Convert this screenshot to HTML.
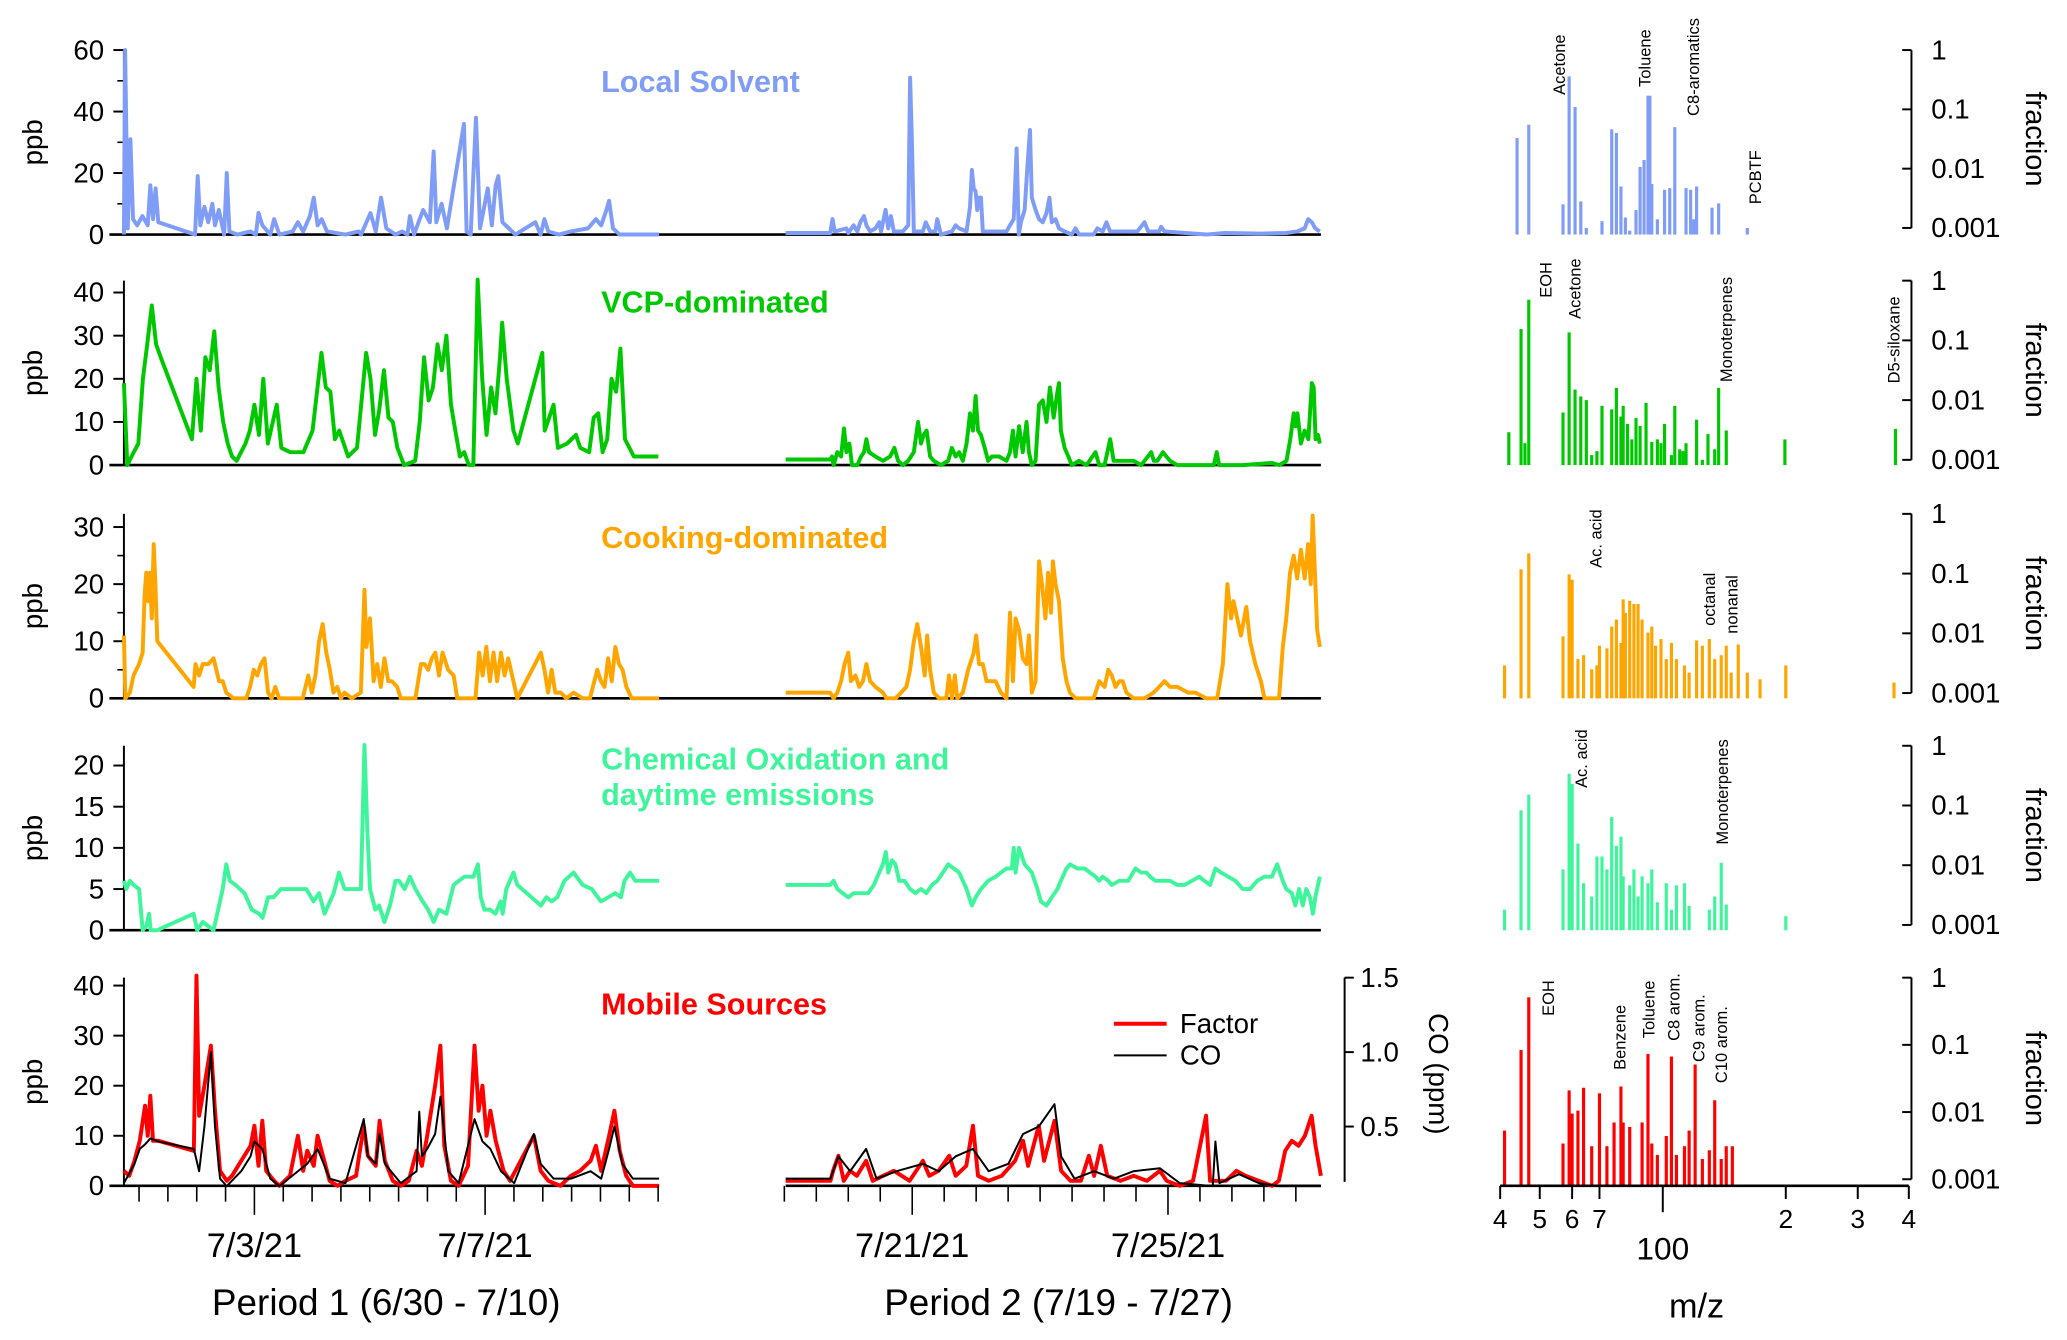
<!DOCTYPE html>
<html>
<head>
<meta charset="utf-8">
<style>
html,body{margin:0;padding:0;background:#fff;}
svg{display:block;font-family:"Liberation Sans",Arial,sans-serif;}
</style>
</head>
<body>
<svg id="chart" xmlns="http://www.w3.org/2000/svg" width="2067" height="1340" viewBox="0 0 1568 1017" preserveAspectRatio="none"></svg>
<script>
// ===== Time series data (hours since period start) =====
const ls1Hours=[0,0.5,1.6,2.7,3.8,5.5,7.7,9.9,11,12.1,13.2,14.3,29.6,30.7,31.8,33.5,35.1,36.8,37.9,39.5,41.7,42.8,43.9,47.2,52.7,54.9,56,57.6,60.9,62.5,64.7,70.2,72.4,74.6,77.4,79,80.6,82.3,84.5,92.2,97.7,98.7,102.6,104.8,107,109.2,113,115.8,118,119,120.7,124.5,127.3,128.9,130,132.2,134.4,141.5,142.6,144.3,146.5,148.2,151.4,153.1,154.7,155.8,157.5,162.9,171.2,173.4,175,176.6,181,186,193.1,196.4,198.6,200.8,201.9,203.5,206.3,222.7];
const ls1Vals=[0,60,2,31,5,3,6,3,16,5,15,4,0,19,3,9,4,10,3,8,0,20,1,0,1,0,7,3,0,5,0,1,4,1,6,12,3,5,1,0,1,0,7,1,12,2,0,1,0,6,0,8,4,27,4,10,2,36,1,0,38,2,15,3,16,19,4,0,4,0,5,1,0,1,2,5,3,8,11,2,0,0];
const ls2Hours=[0,16.7,17.6,18.4,22.8,23.5,25.5,26.9,28,29.4,30.3,31.7,33.7,35.1,35.8,37.5,38.5,39.5,40.6,44,46,46.7,47.4,48.1,51.5,52.6,54.2,56.2,56.9,58.3,62.4,63.8,65.1,67.9,69.2,69.9,70.6,71.3,71.9,72.6,73.3,74,78.8,82.9,84.2,85.6,86.7,87.5,88.3,89.7,90.8,91.7,92.4,93.8,95.1,96.5,97.9,99,99.9,101.3,102.6,104.7,107.4,108.8,110.1,115.6,117,119,120.4,121.8,125.2,132,134.7,136.1,140.2,140.9,142.2,157.9,164.7,178.4,187.9,192,194.8,196.1,197.5,198.8,200.5];
const ls2Vals=[0.5,0.5,5,1,2,0.5,3,1,4,6,3,1,2,4,1,8,2,6,1,1,3,51,30,1,1,4,1,1,5,0,1,3,2,1,9,21,15,14,8,12,12,1,1,1,3,5,28,0,4,8,23,34,12,8,5,4,7,12,4,5,2,1,0,2,0,0,2,1,4,1,1,1,4,1,1,2.5,1,0,0.5,0.3,0.5,1,2,5,4,2,1];

const vcp1Hours=[0,1.4,4.1,6,7.9,9.7,11.6,13.4,15.3,28.3,30.2,32,33.9,35.7,37.6,39.4,41.3,43.2,45,46.9,50.6,52.4,54.3,56.2,58,59.9,63.6,65.5,69.2,74.7,78.5,82.2,84,85.9,87.8,89.6,93.3,97,100.8,102.6,104.5,106.3,108.2,110.1,111.9,113.8,116.6,121.2,123.1,124.9,126.8,128.6,130.5,132.3,134.2,136.1,137.9,139.8,141.6,143.5,145.4,147.2,149.1,150.9,152.8,154.6,156.5,157.4,159.3,162.1,163.9,174.1,175.1,178.8,180.6,184.4,188.1,189.9,193.6,195.5,197.4,199.2,201.1,202.9,204.8,206.6,208.5,212.2,222.4];
const vcp1Vals=[19,0,3,5,20,28,37,28,25,6,20,8,25,22,31,18,10,5,2,1,5,8,14,7,20,5,14,4,3,3,8,26,18,17,6,8,2,4,26,20,7,13,22,11,10,4,0,1,10,25,15,18,28,22,30,14,8,2,3,0,0,43,20,7,18,12,25,33,20,8,5,26,8,14,4,5,7,4,3,11,12,3,6,20,17,27,6,2,2];
const vcp2Hours=[0,16.7,17.4,18,19.4,20.8,21.9,22.8,23.9,24.9,26.9,28.3,29.4,30.3,31.3,33.7,36.5,39.2,40.8,42.2,44,46,48.1,49.7,50.8,51.8,52.9,54.2,55.6,58.3,61,62.4,63.8,65.1,66.5,67.9,69.2,70.3,71.3,72.2,73.3,74.7,76,77.4,80.1,82.9,84.2,85.3,86.3,87.6,89,90.4,91.3,92.4,93.8,95.1,96.5,97.9,99.2,100.6,102,102.6,103.3,104.7,106.1,107.4,110.1,112.9,116.3,117.7,119.7,121.8,123.1,125.2,127.9,130.6,133.4,134.7,137.2,138.2,139.5,141.6,142.9,144.3,147,155.2,160.7,161.8,162.7,171.6,182.5,185.3,188,189.4,190.7,191.4,192.1,193.4,194.8,196.2,197.5,198.2,198.9,199.8,200.5];
const vcp2Vals=[1.3,1.3,2,0,3,2,8.5,3,5,0,0,2,3,6,3,2,1,2,4,1,0,1,3,10,5,7,8,2,1,0,1,4,2,3,1,5,12,8,16,8,7,4,1,2,2,1,3,8,2,9,3,10,3,0,1,14,15,10,18,11,17,19,8,4,2,0,1,0,3,0,0,6,1,1,1,1,0,1,3,1,1,3,2,1,0,0,0,3,0,0,0.5,0,1,6,12,9,12,5,8,6,19,18,6,7,5];

const cook1Hours=[0,0.6,2.5,4,6.3,7.8,8.6,9.3,10.1,10.8,11.6,12.4,13.1,13.9,29,29.8,31.3,32.8,35.1,37.3,39.6,41.1,42.6,45.6,50.9,52.5,54,55.5,57,58.5,60,61.5,63,64.6,74.4,76.7,78.2,79.7,81.2,82.7,84.2,85.7,87.2,88.8,90.3,91.8,94.8,98.6,100.1,100.9,102.4,103.9,105.4,106.9,108.4,110,111.5,113.7,115.2,121.3,123.6,125.1,126.6,128.1,129.6,131.1,132.6,134.9,137.2,138.7,146.3,147.8,149.3,150.8,152.3,153.8,155.3,156.9,158.4,159.9,163.7,173.5,175,176.5,178,179.5,181.8,184.1,187.1,190.9,193.9,197,198.5,200,201.5,203,204.5,206,207.5,209.1,211.3,222.7];
const cook1Vals=[11,0,1,4,6,8,18,22,17,22,14,27,20,10,2,6,4,6,6,7,3,3,1,0,0,2,5,4,6,7,1,0,2,0,0,4,1,4,10,13,8,5,1,2,0,1,0,1,19,9,14,3,6,2,7,3,3,2,0,0,6,6,5,7,8,4,8,5,4,0,0,8,4,9,3,8,3,8,4,7,0,8,5,1,5,1,1,0,1,0,0,5,3,2,7,3,9,6,5,2,0,0];
const cook2Hours=[0,16.7,18,19.4,20.8,22.1,23.5,24.5,26.2,27.6,29,30.3,31.7,33.7,36.5,37.8,41.2,43.3,45.3,46.7,48.1,49.4,50.8,52.2,53.1,54.2,55.6,57.6,60.3,61.3,62.4,63.5,64.4,66.5,68.5,70.6,71.5,72.6,74,75.4,77.4,78.8,80.8,82.9,84.2,85.3,86.3,87.6,89,90.4,91.3,92.4,93.8,95.1,96.2,97.5,98.5,99.6,100.3,101.3,102.6,104,105.4,106.7,108.8,115.6,117.7,119.7,121.1,122.4,123.8,125.2,126.5,127.9,130.6,134.7,138.1,140.2,142.2,144.3,147,151.1,153.8,157.9,162,164.1,165.8,167.2,168.1,169.5,170.9,172.9,174.3,176.3,178.4,179.7,182.5,185.2,186.6,187.9,189.3,190.7,192,193.4,194.8,196.1,197.1,197.8,198.4,199.5,200.5];
const cook2Vals=[1,1,0,1,3,6,8,3,4,2,3,6,3,2,1,0,0,1,2,5,10,13,9,4,11,5,1,0,0,4,0,4,0,1,5,8,11,6,6,3,3,3,1,0,15,3,14,12,7,6,11,1,3,24,20,14,22,15,24,20,17,7,3,1,0,0,3,2,5,4,2,3,3,1,0,0,1,2,3,2,2,1,1,0,0,6,20,14,17,14,11,16,10,6,3,0,0,0,9,14,22,25,21,26,21,27,20,32,25,12,9];

const ox1Hours=[0,1,2.5,4,6.3,7.8,9.3,10.5,11.1,13.9,29,30.5,32.8,35.1,37.3,39.6,41.1,42.6,44.1,46.4,50.2,53.2,56.2,57.7,60,62.3,63.8,65.3,68.3,72.9,75.9,78.9,81.2,83.5,85,87.3,89.5,91.8,94.1,98.6,100.1,101.3,102.4,104.6,106.2,108.4,110.7,113,114.5,116.8,119,121.3,124.3,126.6,128.9,131.1,134.2,137.2,139.4,141.7,145.5,147.3,148.5,150,152.3,154.6,156.8,157.6,159.1,162.1,163.7,173.5,175.8,178,180.3,183.3,187.1,190.9,194.7,198.5,201.5,204.5,206.8,208.3,210.6,212.8,222.7];
const ox1Vals=[6,5,6,5.5,5,0,0.5,2,0,0,2,0,1,0.5,0,3,5,8,6,5.5,4.5,2.5,2,1.5,4,4,4.5,5,5,5,5,3.5,4.5,2,3,4.5,7,5,5,5,22.5,12,5,2.5,3,1,3,6,6,5,6.5,5,3.5,2.5,1,2.5,2,5.5,6,6.5,6.5,8,4,2.5,2.5,2,3.5,2,5,7,5.5,3,4,3.5,4,6,7,5.5,5,3.5,4,4.5,4,6,7,6,6];
const ox2Hours=[0,16.7,18,19.4,21.4,23.5,25.5,28.3,31,33.1,35.1,36.5,37.6,38.5,39.9,41.2,42.6,44.6,46.7,48.7,50.8,52.8,54.9,56.9,59,61,63.1,65.1,67.9,69.9,71.3,73.3,76,78.8,80.8,82.9,84.9,85.6,86.3,87.6,89.7,92.4,94.5,95.8,97.9,99.9,102,103.3,105.4,106.7,109.5,112.2,114.2,116.3,117.7,119,121.1,122.4,125.2,128.6,131.3,133.4,135.4,136.8,138.8,141.5,144.3,147,149.7,152.5,155.2,157.2,159.3,161.3,163.4,166.1,168.8,171.6,174.3,177,179.7,182.5,184.5,186.6,187.9,190,191.3,192.7,194.1,195.4,196.8,197.9,198.8,200.5];
const ox2Vals=[5.5,5.5,6,5,4.5,4,4.5,4.5,4.5,5.5,7,8,9.5,7,8.5,8,6,6,5,4.5,5,4.5,5.5,6,7,8,7.5,7,5,3,4,5,6,6.5,7,7.5,7.5,10,7,10,8,7,5,3.5,3,4,5,6,7.5,8,7.5,7.5,7,6.5,6,6.5,6,5.5,6,6,7.5,7,7,6.5,6,6,6,5.5,5.5,6,6.5,6,5.5,7.5,7,6.5,6,5,5,6,6.5,6.5,8,6,5,4.5,3,5,3,5,4,2,4,6.5];

const mob1Hours=[0,2.2,4.4,6.6,8.8,9.9,11,12.1,14.3,29.1,30.2,31.3,33.5,36.2,37.9,40,42.8,45,48.8,52.7,54.3,56,57.6,59.2,62.5,64.7,69.1,72.4,74.6,76.3,79,80.6,82.8,85.6,88.9,92.2,96.6,99.8,101.5,104.8,106.4,108.6,111.9,115.2,118.5,121.8,124,126.2,129.5,131.7,133.3,136.1,139.3,143.2,145.9,147.6,149.2,150.9,152.5,154.7,158,160.7,165.1,170.6,173.4,176.6,181.6,186,189.8,194.2,196.4,198.6,201.9,204.1,206.3,209,211.8,222.7];
const mob1Vals=[3,2,5,9,16,10,18,9,9,7,42,14,20,28,15,3,1,2,5,8,12,4,13,3,1,0,2,10,3,7,4,10,6,1,0,1,2,12,6,4,13,5,1,0,1,7,4,10,20,28,8,1,0,4,28,15,20,10,15,9,3,1,5,10,3,1,0,2,3,5,8,3,10,15,7,2,0,0];
const co1Hours=[0,4.4,6.6,8.8,11,14.3,29.1,31.3,33.5,36.2,37.9,40,42.8,48.8,52.7,54.3,57.6,60.9,64.7,72.4,76.3,80.6,85.6,92.2,99.8,101.5,104.8,106.4,108.6,115.2,121.8,122.9,124,126.2,129.5,131.7,135,139.3,145.9,149.2,152.5,156.9,162.4,170.6,173.4,178.8,186,194.2,198.6,201.9,204.1,207.4,211.8,222.7];
const co1Vals=[0.12,0.25,0.35,0.38,0.42,0.4,0.35,0.2,0.5,1.0,0.5,0.15,0.1,0.2,0.3,0.4,0.35,0.15,0.1,0.2,0.25,0.35,0.15,0.12,0.55,0.3,0.25,0.45,0.25,0.12,0.2,0.6,0.3,0.35,0.45,0.7,0.2,0.12,0.55,0.4,0.35,0.2,0.12,0.45,0.25,0.15,0.15,0.2,0.15,0.35,0.5,0.25,0.15,0.15];
const mob2Hours=[0,16.8,17.8,19.8,21.8,24.2,26.7,30.2,32.7,36.6,40.6,46.5,51.5,53.9,57.4,61.4,63.8,67.8,70.3,72.2,76.2,81.1,86.1,89.1,91,95,97,100.9,103.4,106.9,110.8,113.8,115.8,118.3,120.7,125.7,130.6,135.6,140.5,143,147.9,152.9,157.8,159.3,165.3,169.2,172.7,177.6,182.6,185.1,187.5,190,192.5,194.9,197.4,198.9,200.9];
const mob2Vals=[1,1,3,6,1,3,2,5,1,2,3,1,5,2,3,6,2,4,12,2,1,2,5,9,4,12,5,13,3,1,1,6,2,8,2,1,2,1,3,1,0,1,14,1,1,3,2,1,0,1,7,9,8,10,14,8,2];
const co2Hours=[0,16.8,19.8,24.2,30.2,34.1,41.6,51.5,57.4,63.8,70.3,76.2,83.6,89.1,95,100.9,103.4,108.4,115.8,123.2,130.6,140.5,147.9,160.3,161.3,162.8,170.2,177.6,185.1,200.9];
const co2Vals=[0.15,0.15,0.3,0.2,0.35,0.15,0.2,0.25,0.2,0.3,0.35,0.2,0.25,0.45,0.5,0.65,0.3,0.15,0.2,0.15,0.2,0.22,0.12,0.1,0.4,0.12,0.18,0.12,0.1,0.1];

// ===== Mass spectra data (m/z, fraction) =====
const lsMz=[44,47,57,59,61,63,65,71,75,77,79,81,83,86,88,90,92,93,94,97,101,104,107,114,117,119,121,132,137,161];
const lsFrac=[0.033,0.055,0.0025,0.36,0.11,0.0028,0.001,0.0013,0.046,0.04,0.005,0.0015,0.0009,0.002,0.0107,0.014,0.17,0.17,0.0055,0.0014,0.0044,0.0047,0.05,0.0047,0.0044,0.0014,0.005,0.0022,0.0026,0.001];
const vcpMz=[42,45,46,47,57,59,61,63,65,67,69,71,75,77,79,80,82,84,86,88,91,94,97,99,101,105,107,110,112,114,121,125,129,134,137,143,199,371];
const vcpFrac=[0.0029,0.155,0.0019,0.48,0.0062,0.136,0.015,0.0115,0.01,0.0012,0.0014,0.008,0.007,0.016,0.0053,0.008,0.004,0.0022,0.005,0.0037,0.009,0.002,0.0022,0.0019,0.004,0.0012,0.008,0.0015,0.0014,0.0019,0.0047,0.001,0.0027,0.0015,0.016,0.0031,0.0022,0.0033];
const cookMz=[41,45,47,57,59,60,62,64,67,69,70,73,75,77,79,80,81,83,85,87,89,92,94,96,99,102,105,108,113,116,121,125,130,134,139,143,147,153,161,173,200,368];
const cookFrac=[0.0029,0.118,0.218,0.0089,0.097,0.079,0.0037,0.0043,0.0025,0.0029,0.0062,0.0056,0.013,0.017,0.0069,0.037,0.022,0.035,0.031,0.031,0.017,0.0103,0.013,0.0062,0.008,0.0037,0.0069,0.0037,0.0029,0.0022,0.0076,0.0062,0.008,0.0037,0.0043,0.0062,0.0022,0.0065,0.0022,0.0017,0.0029,0.0015];
const oxMz=[41,45,47,57,59,60,62,64,67,69,71,73,75,77,79,80,83,85,87,89,92,94,97,102,105,108,113,116,130,134,139,143,200];
const oxFrac=[0.0018,0.083,0.152,0.0085,0.34,0.23,0.023,0.005,0.003,0.014,0.014,0.0085,0.064,0.021,0.03,0.0065,0.0046,0.0085,0.003,0.0065,0.005,0.0085,0.0024,0.005,0.0018,0.0046,0.005,0.0021,0.0018,0.003,0.011,0.0022,0.0014];
const mobMz=[41,45,47,57,59,60,62,64,67,70,73,76,79,80,83,89,92,94,97,102,105,108,113,116,120,125,130,134,139,143,148];
const mobFrac=[0.0053,0.084,0.51,0.0034,0.021,0.0095,0.0105,0.023,0.0031,0.019,0.0031,0.007,0.024,0.007,0.006,0.007,0.073,0.0034,0.0023,0.0044,0.067,0.0023,0.0031,0.0053,0.051,0.002,0.0027,0.015,0.002,0.0031,0.0031];

// ===== Tick labels =====
const p1DateLabels=["7/3/21","7/7/21"];
const p2DateLabels=["7/21/21","7/25/21"];
const mzTickValues=[40,50,60,70,200,300,400];
const mzTickLabels=["4","5","6","7","2","3","4"];
const fracTickValues=[1,0.1,0.01,0.001];
const fracTickLabels=["1","0.1","0.01","0.001"];
const coTickValues=[1.5,1.0,0.5];
const coTickLabels=["1.5","1.0","0.5"];

const NS="http://www.w3.org/2000/svg";
const svg=document.getElementById('chart');
function mk(tag,attrs,parent){const e=document.createElementNS(NS,tag);for(const k in attrs)e.setAttribute(k,attrs[k]);(parent||svg).appendChild(e);return e;}

function xP1(h){return 94+h*1.823;}
function xP2(h){return 596+h*2.021;}
function mzX(mz){return 1138+310*Math.log10(mz/40);}

const panels=[
 {name:'local-solvent',color:'#7f9cf7',y0:178,top:38,ticks:[0,20,40,60],minor:[10,30,50],title:['Local Solvent'],titleY:70,fTop:38,fBot:173,
  s1:[ls1Hours,ls1Vals],s2:[ls2Hours,ls2Vals],mz:lsMz,fr:lsFrac,
  labels:[['Acetone',1183,72],['Toluene',1248,66],['C8-aromatics',1285,88],['PCBTF',1332,155]]},
 {name:'vcp-dominated',color:'#00c800',y0:353,top:213,ticks:[0,10,20,30,40],minor:[],title:['VCP-dominated'],titleY:237,fTop:213,fBot:349,
  s1:[vcp1Hours,vcp1Vals],s2:[vcp2Hours,vcp2Vals],mz:vcpMz,fr:vcpFrac,
  labels:[['EOH',1173,226],['Acetone',1195,242],['Monoterpenes',1310,290],['D5-siloxane',1437,291]]},
 {name:'cooking-dominated',color:'#ffa500',y0:530,top:390,ticks:[0,10,20,30],minor:[5,15,25],title:['Cooking-dominated'],titleY:416,fTop:390,fBot:526,
  s1:[cook1Hours,cook1Vals],s2:[cook2Hours,cook2Vals],mz:cookMz,fr:cookFrac,
  labels:[['Ac. acid',1211,431],['octanal',1297,475],['nonanal',1314,481]]},
 {name:'chemical-oxidation',color:'#3ff59c',y0:706,top:566,ticks:[0,5,10,15,20],minor:[],title:['Chemical Oxidation and','daytime emissions'],titleY:584,fTop:566,fBot:702,
  s1:[ox1Hours,ox1Vals],s2:[ox2Hours,ox2Vals],mz:oxMz,fr:oxFrac,
  labels:[['Ac. acid',1200,598],['Monoterpenes',1307,641]]},
 {name:'mobile-sources',color:'#ff0000',y0:900,top:742,ticks:[0,10,20,30,40],minor:[],title:['Mobile Sources'],titleY:770,fTop:742,fBot:895,
  s1:[mob1Hours,mob1Vals],s2:[mob2Hours,mob2Vals],mz:mobMz,fr:mobFrac,
  labels:[['EOH',1175,771],['Benzene',1229,812],['Toluene',1251,788],['C8 arom.',1270,790],['C9 arom.',1289,806],['C10 arom.',1306,822]]}
];
const tickPx=[140,131,130,125,152];

function path(hs,vs,xf,yf){let d='';for(let i=0;i<hs.length;i++){d+=(i?'L':'M')+xf(hs[i]).toFixed(2)+','+yf(vs[i]).toFixed(2);}return d;}

panels.forEach((p,pi)=>{
  const g=mk('g',{});
  
  
  const scale=tickPx[pi]/p.ticks[p.ticks.length-1];
  const yf=v=>p.y0-v*scale;
  if(pi<4){
    const bl=mk('line',{x1:83,x2:1002,y1:p.y0,y2:p.y0,stroke:'#000','stroke-width':2},g);
    
    
  } else {
    const b1=mk('line',{x1:83,x2:500,y1:p.y0,y2:p.y0,stroke:'#000','stroke-width':2},g);
    
    
    const b2=mk('line',{x1:596,x2:1002,y1:p.y0,y2:p.y0,stroke:'#000','stroke-width':2},g);
    
    
  }
  const ya=mk('line',{x1:94,x2:94,y1:p.top,y2:p.y0,stroke:'#000','stroke-width':1.5},g);
  
  
  p.ticks.forEach(t=>{
    const tl=mk('line',{x1:86,x2:94,y1:yf(t),y2:yf(t),stroke:'#000','stroke-width':1.5},g);
    
    
    const tx=mk('text',{x:79,y:yf(t)+7,'text-anchor':'end','font-size':21,fill:'#000'},g);
    tx.textContent=String(t);
    
    
  });
  p.minor.forEach(t=>{
    const tl=mk('line',{x1:89,x2:94,y1:yf(t),y2:yf(t),stroke:'#000','stroke-width':1.2},g);
    
    
  });
  const yl=mk('text',{x:0,y:0,transform:`translate(32,${(p.top+p.y0)/2}) rotate(-90)`,'text-anchor':'middle','font-size':21,fill:'#000'},g);
  yl.textContent='ppb';
  
  
  const l1=mk('path',{d:path(p.s1[0],p.s1[1],xP1,yf),fill:'none',stroke:p.color,'stroke-width':3,'stroke-linejoin':'round'},g);
  
  
  const l2=mk('path',{d:path(p.s2[0],p.s2[1],xP2,yf),fill:'none',stroke:p.color,'stroke-width':3,'stroke-linejoin':'round'},g);
  
  
  p.title.forEach((t,i)=>{
    const tt=mk('text',{x:456,y:p.titleY+i*27,'font-size':23.2,'font-weight':'bold',fill:p.color},g);
    tt.textContent=t;
    
    
  });
  const dec=(p.fBot-p.fTop)/3;
  const fy=f=>p.fTop-Math.log10(f)*dec;
  const barBottom=pi<4?p.y0:900;
  p.mz.forEach((m,i)=>{
    const top=fy(p.fr[i]);
    const b=mk('rect',{x:mzX(m)-1.2,y:top,width:2.4,height:Math.max(0,barBottom-top),fill:p.color},g);
    
    
  });
  const fa=mk('line',{x1:1450,x2:1450,y1:p.fTop,y2:p.fBot,stroke:'#000','stroke-width':1.5},g);
  
  
  fracTickValues.forEach((f,i)=>{
    const tl=mk('line',{x1:1443,x2:1450,y1:fy(f),y2:fy(f),stroke:'#000','stroke-width':1.5},g);
    
    
    const tx=mk('text',{x:1465,y:fy(f)+7,'font-size':21,fill:'#000'},g);
    tx.textContent=fracTickLabels[i];
    
    
  });
  const fl=mk('text',{x:0,y:0,transform:`translate(1537,${(p.fTop+p.fBot)/2}) rotate(90)`,'text-anchor':'middle','font-size':22,fill:'#000'},g);
  fl.textContent='fraction';
  
  
  p.labels.forEach(l=>{
    const tx=mk('text',{x:0,y:0,transform:`translate(${l[1]+4},${l[2]}) rotate(-90)`,'font-size':12.5,fill:'#000'},g);
    tx.textContent=l[0];
    
    
  });
});

const coY=v=>911.5-v*113;
const co1=mk('path',{d:path(co1Hours,co1Vals,xP1,coY),fill:'none',stroke:'#000','stroke-width':1.5,'stroke-linejoin':'round'});


const co2=mk('path',{d:path(co2Hours,co2Vals,xP2,coY),fill:'none',stroke:'#000','stroke-width':1.5,'stroke-linejoin':'round'});


const coAx=mk('line',{x1:1020,x2:1020,y1:742,y2:897,stroke:'#000','stroke-width':1.5});


coTickValues.forEach((v,i)=>{
  const t=mk('line',{x1:1020,x2:1027,y1:coY(v),y2:coY(v),stroke:'#000','stroke-width':1.5});
  
  
  const tx=mk('text',{x:1032,y:coY(v)+7,'font-size':21,fill:'#000'});
  tx.textContent=coTickLabels[i];
  
  
});
const coT=mk('text',{x:0,y:0,transform:'translate(1084,815) rotate(90)','text-anchor':'middle','font-size':21,fill:'#000'});
coT.textContent='CO (ppm)';


const lg1=mk('line',{x1:845,x2:885,y1:777,y2:777,stroke:'#ff0000','stroke-width':3});


const lt1=mk('text',{x:895,y:784,'font-size':21,fill:'#000'});
lt1.textContent='Factor';


const lg2=mk('line',{x1:845,x2:885,y1:801,y2:801,stroke:'#000','stroke-width':1.5});


const lt2=mk('text',{x:895,y:808,'font-size':21,fill:'#000'});
lt2.textContent='CO';



for(let k=-4;k<=14;k++){
  const h=54.3+12*k; const x=xP1(h); const major=(k===0||k===8);
  const t=mk('line',{x1:x,x2:x,y1:900,y2:major?922:912,stroke:'#000','stroke-width':1.2});
  
  
}
for(let k=-4;k<=12;k++){
  const h=47.5+12*k; const x=xP2(h); const major=(k===0||k===8);
  const t=mk('line',{x1:x,x2:x,y1:900,y2:major?922:912,stroke:'#000','stroke-width':1.2});
  
  
}
[[xP1(54.3),p1DateLabels[0]],[xP1(150.3),p1DateLabels[1]],[xP2(47.5),p2DateLabels[0]],[xP2(143.5),p2DateLabels[1]]].forEach(d=>{
  const tx=mk('text',{x:d[0],y:954,'text-anchor':'middle','font-size':26,fill:'#000'});
  tx.textContent=d[1];
  
  
});
const per1=mk('text',{x:293,y:998,'text-anchor':'middle','font-size':28,fill:'#000'});
per1.textContent='Period 1 (6/30 - 7/10)';


const per2=mk('text',{x:803,y:998,'text-anchor':'middle','font-size':28,fill:'#000'});
per2.textContent='Period 2 (7/19 - 7/27)';



const mzAx=mk('line',{x1:1138,x2:1448,y1:900,y2:900,stroke:'#000','stroke-width':2});


mzTickValues.forEach((m,i)=>{
  const x=mzX(m);
  const t=mk('line',{x1:x,x2:x,y1:900,y2:910,stroke:'#000','stroke-width':1.5});
  
  
  const tx=mk('text',{x:x,y:932,'text-anchor':'middle','font-size':20,fill:'#000'});
  tx.textContent=mzTickLabels[i];
  
  
});
const t100=mk('line',{x1:mzX(100),x2:mzX(100),y1:900,y2:920,stroke:'#000','stroke-width':1.5});


const l100=mk('text',{x:mzX(100),y:956,'text-anchor':'middle','font-size':24,fill:'#000'});
l100.textContent='100';


const mzT=mk('text',{x:1287,y:1000,'text-anchor':'middle','font-size':26,fill:'#000'});
mzT.textContent='m/z';


</script>
</body>
</html>
